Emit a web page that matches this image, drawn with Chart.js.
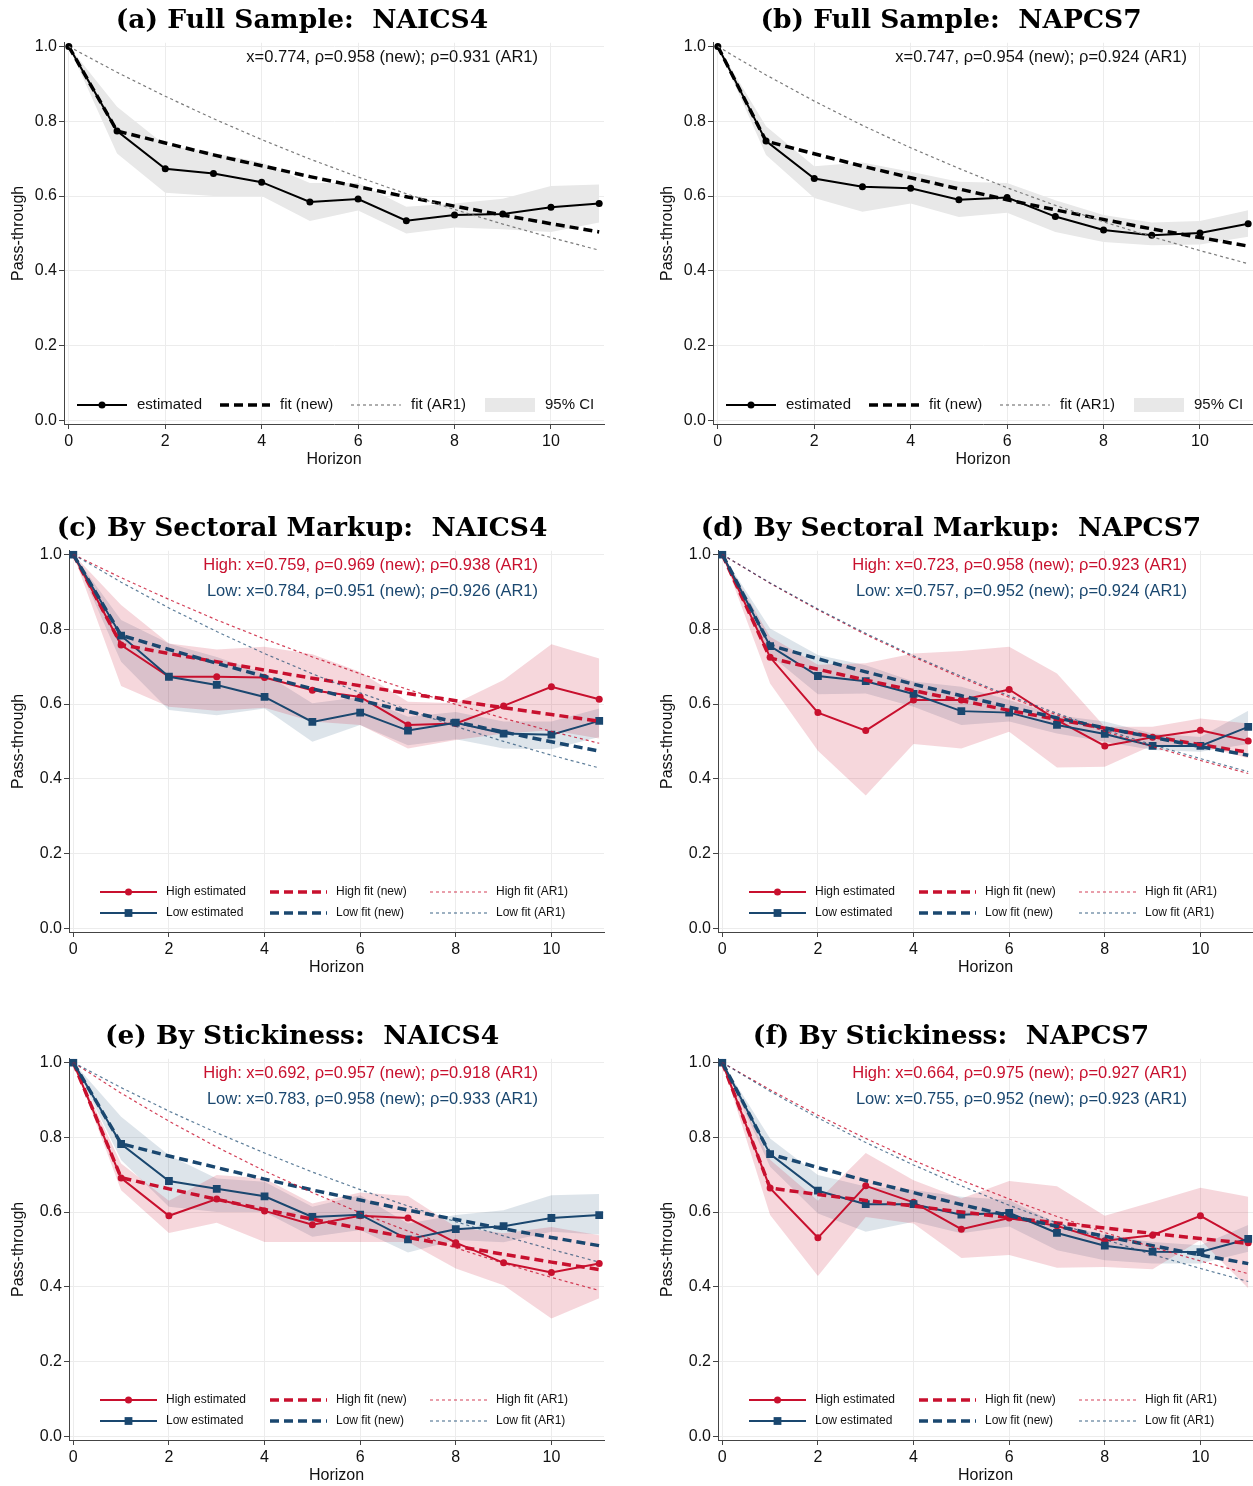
<!DOCTYPE html>
<html lang="en">
<head>
<meta charset="UTF-8">
<title>Pass-through by horizon</title>
<script src="https://cdn.jsdelivr.net/npm/chart.js"></script>
<style>
  body { margin: 0; background: #fff; width: 1253px; height: 1486px; overflow: hidden; position: relative; }
  .panel { position: absolute; }
</style>
</head>
<body>
<div class="panel" style="left:0;top:0"><canvas id="pa" width="624" height="470"></canvas></div>
<div class="panel" style="left:649px;top:0"><canvas id="pb" width="624" height="470"></canvas></div>
<div class="panel" style="left:0;top:508px"><canvas id="pc" width="624" height="470"></canvas></div>
<div class="panel" style="left:649px;top:508px"><canvas id="pd" width="624" height="470"></canvas></div>
<div class="panel" style="left:0;top:1016px"><canvas id="pe" width="624" height="470"></canvas></div>
<div class="panel" style="left:649px;top:1016px"><canvas id="pf" width="624" height="470"></canvas></div>

<script>
const horizons = [0, 1, 2, 3, 4, 5, 6, 7, 8, 9, 10, 11];
const xTicks = [0, 2, 4, 6, 8, 10];
const yTicks = [0, 0.2, 0.4, 0.6, 0.8, 1.0];

// (a) full sample, NAICS4
const aEst = [1, 0.774, 0.673, 0.660, 0.637, 0.584, 0.592, 0.534, 0.549, 0.552, 0.570, 0.580];
const aLo  = [1, 0.714, 0.609, 0.600, 0.600, 0.533, 0.561, 0.500, 0.516, 0.511, 0.504, 0.529];
const aHi  = [1, 0.839, 0.736, 0.715, 0.690, 0.635, 0.635, 0.571, 0.580, 0.593, 0.627, 0.631];
const aNew = [1, 0.774, 0.742, 0.710, 0.681, 0.652, 0.625, 0.598, 0.573, 0.549, 0.526, 0.504];
const aAR1 = [1, 0.931, 0.867, 0.807, 0.751, 0.699, 0.651, 0.606, 0.564, 0.525, 0.489, 0.455];

// (b) full sample, NAPCS7
const bEst = [1, 0.747, 0.647, 0.625, 0.621, 0.590, 0.596, 0.545, 0.509, 0.495, 0.501, 0.526];
const bLo  = [1, 0.710, 0.595, 0.558, 0.580, 0.544, 0.555, 0.504, 0.477, 0.468, 0.470, 0.491];
const bHi  = [1, 0.787, 0.680, 0.690, 0.665, 0.638, 0.635, 0.589, 0.549, 0.529, 0.533, 0.562];
const bNew = [1, 0.747, 0.713, 0.680, 0.649, 0.619, 0.590, 0.563, 0.537, 0.512, 0.489, 0.466];
const bAR1 = [1, 0.924, 0.854, 0.789, 0.729, 0.674, 0.622, 0.575, 0.531, 0.491, 0.454, 0.419];

// (c) sectoral markup, NAICS4
const cHighEst = [1, 0.758, 0.673, 0.673, 0.671, 0.637, 0.619, 0.544, 0.548, 0.595, 0.646, 0.613];
const cHighLo  = [1, 0.648, 0.593, 0.582, 0.590, 0.553, 0.544, 0.481, 0.504, 0.521, 0.530, 0.508];
const cHighHi  = [1, 0.865, 0.762, 0.746, 0.753, 0.733, 0.686, 0.606, 0.602, 0.664, 0.760, 0.722];
const cLowEst  = [1, 0.783, 0.673, 0.651, 0.619, 0.552, 0.577, 0.529, 0.550, 0.521, 0.518, 0.555];
const cLowLo   = [1, 0.713, 0.584, 0.570, 0.588, 0.499, 0.544, 0.490, 0.506, 0.481, 0.479, 0.512];
const cLowHi   = [1, 0.825, 0.762, 0.726, 0.682, 0.602, 0.619, 0.566, 0.579, 0.553, 0.553, 0.588];
const cHighNew = [1, 0.759, 0.735, 0.713, 0.691, 0.669, 0.649, 0.628, 0.609, 0.590, 0.572, 0.554];
const cLowNew  = [1, 0.784, 0.746, 0.709, 0.674, 0.641, 0.610, 0.580, 0.552, 0.525, 0.499, 0.474];
const cHighAR1 = [1, 0.938, 0.880, 0.825, 0.774, 0.726, 0.681, 0.639, 0.599, 0.562, 0.527, 0.495];
const cLowAR1  = [1, 0.926, 0.857, 0.794, 0.735, 0.681, 0.630, 0.584, 0.540, 0.500, 0.463, 0.429];

// (d) sectoral markup, NAPCS7
const dHighEst = [1, 0.725, 0.577, 0.529, 0.611, 0.611, 0.639, 0.557, 0.488, 0.511, 0.530, 0.501];
const dHighLo  = [1, 0.655, 0.475, 0.355, 0.493, 0.481, 0.526, 0.430, 0.432, 0.490, 0.490, 0.455];
const dHighHi  = [1, 0.780, 0.705, 0.709, 0.735, 0.742, 0.753, 0.682, 0.539, 0.539, 0.561, 0.548];
const dLowEst  = [1, 0.755, 0.675, 0.661, 0.627, 0.581, 0.577, 0.544, 0.520, 0.488, 0.488, 0.539];
const dLowLo   = [1, 0.731, 0.626, 0.628, 0.593, 0.544, 0.553, 0.521, 0.499, 0.477, 0.472, 0.493];
const dLowHi   = [1, 0.802, 0.731, 0.704, 0.660, 0.646, 0.611, 0.570, 0.553, 0.521, 0.512, 0.582];
const dHighNew = [1, 0.723, 0.693, 0.664, 0.636, 0.609, 0.583, 0.559, 0.535, 0.513, 0.491, 0.471];
const dLowNew  = [1, 0.757, 0.721, 0.686, 0.653, 0.622, 0.592, 0.563, 0.536, 0.511, 0.486, 0.463];
const dHighAR1 = [1, 0.923, 0.852, 0.786, 0.726, 0.670, 0.618, 0.571, 0.527, 0.486, 0.449, 0.414];
const dLowAR1  = [1, 0.924, 0.854, 0.789, 0.729, 0.674, 0.622, 0.575, 0.531, 0.491, 0.454, 0.419];

// (e) stickiness, NAICS4
const eHighEst = [1, 0.691, 0.590, 0.635, 0.603, 0.566, 0.590, 0.584, 0.518, 0.464, 0.438, 0.462];
const eHighLo  = [1, 0.658, 0.544, 0.571, 0.520, 0.520, 0.520, 0.520, 0.449, 0.404, 0.315, 0.369];
const eHighHi  = [1, 0.730, 0.630, 0.699, 0.690, 0.623, 0.652, 0.643, 0.560, 0.543, 0.560, 0.538];
const eLowEst  = [1, 0.782, 0.683, 0.662, 0.642, 0.587, 0.593, 0.527, 0.554, 0.562, 0.584, 0.592];
const eLowLo   = [1, 0.739, 0.614, 0.600, 0.600, 0.534, 0.552, 0.492, 0.525, 0.519, 0.547, 0.540];
const eLowHi   = [1, 0.855, 0.752, 0.690, 0.681, 0.614, 0.645, 0.569, 0.592, 0.605, 0.645, 0.648];
const eHighNew = [1, 0.692, 0.662, 0.634, 0.607, 0.581, 0.556, 0.532, 0.509, 0.487, 0.466, 0.446];
const eLowNew  = [1, 0.783, 0.750, 0.719, 0.688, 0.659, 0.632, 0.605, 0.580, 0.555, 0.532, 0.510];
const eHighAR1 = [1, 0.918, 0.843, 0.774, 0.710, 0.652, 0.598, 0.549, 0.504, 0.463, 0.425, 0.390];
const eLowAR1  = [1, 0.933, 0.870, 0.812, 0.758, 0.707, 0.660, 0.616, 0.574, 0.536, 0.500, 0.466];

// (f) stickiness, NAPCS7
const fHighEst = [1, 0.664, 0.531, 0.670, 0.626, 0.554, 0.584, 0.563, 0.523, 0.538, 0.590, 0.518];
const fHighLo  = [1, 0.592, 0.429, 0.587, 0.569, 0.477, 0.485, 0.451, 0.453, 0.447, 0.525, 0.396];
const fHighHi  = [1, 0.740, 0.630, 0.758, 0.685, 0.636, 0.683, 0.669, 0.590, 0.627, 0.665, 0.641];
const fLowEst  = [1, 0.755, 0.657, 0.621, 0.621, 0.593, 0.598, 0.544, 0.510, 0.494, 0.493, 0.528];
const fLowLo   = [1, 0.721, 0.596, 0.547, 0.574, 0.543, 0.561, 0.498, 0.471, 0.462, 0.462, 0.494];
const fLowHi   = [1, 0.797, 0.699, 0.668, 0.659, 0.641, 0.632, 0.569, 0.538, 0.520, 0.511, 0.565];
const fHighNew = [1, 0.664, 0.647, 0.631, 0.616, 0.600, 0.585, 0.571, 0.557, 0.543, 0.529, 0.516];
const fLowNew  = [1, 0.755, 0.719, 0.684, 0.652, 0.620, 0.590, 0.562, 0.535, 0.510, 0.485, 0.462];
const fHighAR1 = [1, 0.927, 0.859, 0.797, 0.738, 0.685, 0.635, 0.588, 0.545, 0.506, 0.469, 0.435];
const fLowAR1  = [1, 0.923, 0.852, 0.786, 0.726, 0.670, 0.618, 0.571, 0.527, 0.486, 0.449, 0.414];

const RED = 'rgb(200,16,46)';
const BLUE = 'rgb(26,71,111)';
const SANS = "'Liberation Sans', Arial, sans-serif";

const pts = ys => horizons.map((h, i) => ({ x: h, y: ys[i] }));

// text note in the upper right of the plot
const notePlugin = {
    id: 'note',
    afterDraw(chart, args, opts) {
        if (!opts.lines) return;
        const ctx = chart.ctx, area = chart.chartArea;
        ctx.save();
        ctx.font = '16.5px ' + SANS;
        ctx.textAlign = 'right';
        ctx.textBaseline = 'middle';
        opts.lines.forEach((l, i) => {
            ctx.fillStyle = l.color;
            ctx.fillText(l.text, 538, area.top + 15 + i * 26);
        });
        ctx.restore();
    }
};

// legend drawn inside the plot area, at the bottom
const innerLegend = {
    id: 'innerLegend',
    afterDraw(chart, args, opts) {
        if (!opts.items) return;
        const ctx = chart.ctx, area = chart.chartArea;
        ctx.save();
        ctx.font = opts.size + 'px ' + SANS;
        ctx.textBaseline = 'middle';
        opts.items.forEach(it => {
            const ds = chart.data.datasets[it.ds];
            const y = area.bottom - it.dy;
            const x0 = it.x, x1 = it.x + opts.len;
            if (it.box) {
                ctx.fillStyle = ds.backgroundColor;
                ctx.fillRect(x0, y - 7, opts.len, 14);
            } else {
                ctx.strokeStyle = ds.borderColor;
                ctx.lineWidth = ds.borderWidth;
                ctx.setLineDash(ds.borderDash || []);
                ctx.beginPath();
                ctx.moveTo(x0, y);
                ctx.lineTo(x1, y);
                ctx.stroke();
                ctx.setLineDash([]);
                if (ds.pointRadius > 0) {
                    ctx.fillStyle = ds.borderColor;
                    const r = ds.pointRadius;
                    if (ds.pointStyle === 'rect') {
                        const s = r * Math.SQRT1_2;
                        ctx.fillRect((x0 + x1) / 2 - s, y - s, 2 * s, 2 * s);
                    } else {
                        ctx.beginPath();
                        ctx.arc((x0 + x1) / 2, y, r, 0, Math.PI * 2);
                        ctx.fill();
                    }
                }
            }
            ctx.fillStyle = '#111';
            ctx.fillText(it.text || ds.label, x1 + opts.gap, y);
        });
        ctx.restore();
    }
};

function band(label, lo, hi, color) {
    return [
        { label: label + ' lower', data: pts(lo), borderWidth: 0, pointRadius: 0, fill: false, order: 20 },
        { label: label, data: pts(hi), borderWidth: 0, pointRadius: 0, fill: '-1', backgroundColor: color, order: 20 }
    ];
}
function est(label, ys, color, style) {
    return { label: label, data: pts(ys), borderColor: color, backgroundColor: color, borderWidth: 2,
             pointRadius: style === 'rect' ? 5.5 : 3.5, pointStyle: style, pointBorderWidth: 0, fill: false, order: 6 };
}
function fitNew(label, ys, color) {
    return { label: label, data: pts(ys), borderColor: color, borderWidth: 3.5, borderDash: [9, 5],
             pointRadius: 0, fill: false, order: 4 };
}
function fitAR1(label, ys, color) {
    return { label: label, data: pts(ys), borderColor: color, borderWidth: 1.2, borderDash: [3, 3],
             pointRadius: 0, fill: false, order: 2 };
}

function draw(id, title, datasets, axisLeft, xMin, note, legend) {
    const font = { family: SANS, size: 16 };
    new Chart(document.getElementById(id), {
        type: 'line',
        data: { datasets: datasets },
        plugins: [notePlugin, innerLegend],
        options: {
            responsive: false,
            animation: false,
            layout: { padding: { left: 0, right: 20, top: 0, bottom: 0 } },
            plugins: {
                legend: { display: false },
                tooltip: { enabled: false },
                title: { display: true, text: title, color: '#000',
                         font: { family: "'DejaVu Serif', serif", weight: 'bold', size: 26.5 },
                         padding: { top: 5, bottom: 6 } },
                note: note,
                innerLegend: legend
            },
            scales: {
                x: {
                    type: 'linear', min: xMin, max: 11.1,
                    afterBuildTicks: s => { s.ticks = xTicks.map(v => ({ value: v })); },
                    afterFit: s => { s.height = 46; },
                    ticks: { font: font, color: '#111', padding: 3, maxRotation: 0 },
                    grid: { color: '#ececec', tickColor: '#444', tickLength: 5 },
                    border: { color: '#444', width: 1 },
                    title: { display: true, text: 'Horizon', font: font, color: '#111', padding: { top: 0, bottom: 1 } }
                },
                y: {
                    type: 'linear', min: -0.01, max: 1.01,
                    afterBuildTicks: s => { s.ticks = yTicks.map(v => ({ value: v })); },
                    afterFit: s => { s.width = axisLeft; },
                    ticks: { font: font, color: '#111', padding: 2, callback: v => v.toFixed(1) },
                    grid: { color: '#ececec', tickColor: '#444', tickLength: 5 },
                    border: { color: '#444', width: 1 },
                    title: { display: true, text: 'Pass-through', font: font, color: '#111', padding: { top: 9, bottom: 0 } }
                }
            }
        }
    });
}

function fullPanel(id, title, e, lo, hi, nw, ar, noteText) {
    const ds = [
        ...band('95% CI', lo, hi, 'rgb(232,232,232)'),
        est('estimated', e, '#000', 'circle'),
        fitNew('fit (new)', nw, '#000'),
        fitAR1('fit (AR1)', ar, '#7a7a7a')
    ];
    const legend = { size: 15, len: 50, gap: 10, items: [
        { ds: 2, x: 77, dy: 19 }, { ds: 3, x: 220, dy: 19 }, { ds: 4, x: 351, dy: 19 }, { ds: 1, x: 485, dy: 19, box: true }
    ] };
    draw(id, title, ds, 64, -0.1, { lines: [{ text: noteText, color: '#111' }] }, legend);
}

function splitPanel(id, title, d, notes) {
    const ds = [
        ...band('High 95% CI', d.hLo, d.hHi, 'rgba(200,16,46,0.17)'),
        ...band('Low 95% CI', d.lLo, d.lHi, 'rgba(26,71,111,0.15)'),
        est('High estimated', d.hEst, RED, 'circle'),
        est('Low estimated', d.lEst, BLUE, 'rect'),
        fitNew('High fit (new)', d.hNew, RED),
        fitNew('Low fit (new)', d.lNew, BLUE),
        fitAR1('High fit (AR1)', d.hAR, 'rgba(200,16,46,0.8)'),
        fitAR1('Low fit (AR1)', d.lAR, 'rgba(26,71,111,0.7)')
    ];
    ds[4].order = 7; ds[6].order = 5; ds[8].order = 3;
    const legend = { size: 12, len: 57, gap: 9, items: [
        { ds: 4, x: 100, dy: 40 }, { ds: 6, x: 270, dy: 40 }, { ds: 8, x: 430, dy: 40 },
        { ds: 5, x: 100, dy: 19 }, { ds: 7, x: 270, dy: 19 }, { ds: 9, x: 430, dy: 19 }
    ] };
    draw(id, title, ds, 69, -0.09,
         { lines: [{ text: notes[0], color: RED }, { text: notes[1], color: BLUE }] }, legend);
}

fullPanel('pa', '(a) Full Sample:  NAICS4', aEst, aLo, aHi, aNew, aAR1,
          'x=0.774, ρ=0.958 (new); ρ=0.931 (AR1)');
fullPanel('pb', '(b) Full Sample:  NAPCS7', bEst, bLo, bHi, bNew, bAR1,
          'x=0.747, ρ=0.954 (new); ρ=0.924 (AR1)');

splitPanel('pc', '(c) By Sectoral Markup:  NAICS4',
    { hEst: cHighEst, hLo: cHighLo, hHi: cHighHi, lEst: cLowEst, lLo: cLowLo, lHi: cLowHi,
      hNew: cHighNew, lNew: cLowNew, hAR: cHighAR1, lAR: cLowAR1 },
    ['High: x=0.759, ρ=0.969 (new); ρ=0.938 (AR1)', 'Low: x=0.784, ρ=0.951 (new); ρ=0.926 (AR1)']);
splitPanel('pd', '(d) By Sectoral Markup:  NAPCS7',
    { hEst: dHighEst, hLo: dHighLo, hHi: dHighHi, lEst: dLowEst, lLo: dLowLo, lHi: dLowHi,
      hNew: dHighNew, lNew: dLowNew, hAR: dHighAR1, lAR: dLowAR1 },
    ['High: x=0.723, ρ=0.958 (new); ρ=0.923 (AR1)', 'Low: x=0.757, ρ=0.952 (new); ρ=0.924 (AR1)']);
splitPanel('pe', '(e) By Stickiness:  NAICS4',
    { hEst: eHighEst, hLo: eHighLo, hHi: eHighHi, lEst: eLowEst, lLo: eLowLo, lHi: eLowHi,
      hNew: eHighNew, lNew: eLowNew, hAR: eHighAR1, lAR: eLowAR1 },
    ['High: x=0.692, ρ=0.957 (new); ρ=0.918 (AR1)', 'Low: x=0.783, ρ=0.958 (new); ρ=0.933 (AR1)']);
splitPanel('pf', '(f) By Stickiness:  NAPCS7',
    { hEst: fHighEst, hLo: fHighLo, hHi: fHighHi, lEst: fLowEst, lLo: fLowLo, lHi: fLowHi,
      hNew: fHighNew, lNew: fLowNew, hAR: fHighAR1, lAR: fLowAR1 },
    ['High: x=0.664, ρ=0.975 (new); ρ=0.927 (AR1)', 'Low: x=0.755, ρ=0.952 (new); ρ=0.923 (AR1)']);
</script>
</body>
</html>
